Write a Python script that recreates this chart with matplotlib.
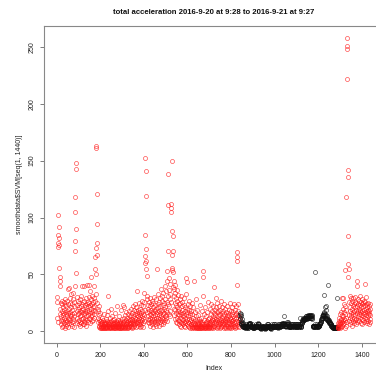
import matplotlib
matplotlib.use("Agg")
import matplotlib.pyplot as plt
import numpy as np

title = "total acceleration 2016-9-20 at 9:28 to 2016-9-21 at 9:27"
xlabel = "Index"
ylabel = "smoothdata$SVM[seq(1, 1440)]"
xticks = [0, 200, 400, 600, 800, 1000, 1200, 1400]
yticks = [0, 50, 100, 150, 200, 250]

# first red stretch (index 1..840)
red_a = [
    12, 30, 26, 8, 85, 78, 102, 74, 92, 82, 76, 56, 15, 44, 48, 40, 20, 9, 25, 13,
    6, 18, 27, 11, 4, 24, 16, 9, 21, 14, 5, 26, 19, 7, 12, 23, 3, 17, 10, 28,
    8, 15, 22, 5, 13, 27, 9, 18, 6, 24, 11, 37, 16, 4, 20, 38, 12, 7, 25, 14,
    10, 29, 17, 6, 21, 13, 33, 8, 24, 15, 5, 19, 28, 11, 34, 9, 22, 16, 4, 26,
    13, 40, 71, 105, 118, 79, 148, 143, 90, 51, 30, 18, 7, 23, 12, 27, 15, 9, 20, 6,
    16, 25, 10, 21, 5, 18, 28, 13, 8, 22, 14, 31, 7, 19, 24, 11, 40, 17, 6, 26,
    12, 20, 9, 40, 15, 27, 6, 18, 23, 11, 16, 8, 29, 21, 13, 5, 24, 17, 10, 41,
    19, 14, 26, 8, 22, 12, 30, 18, 41, 25, 11, 16, 7, 23, 35, 20, 48, 13, 28, 9,
    17, 24, 14, 31, 21, 10, 26, 19, 15, 29, 40, 22, 12, 27, 55, 18, 65, 33, 73, 50,
    163, 161, 121, 94, 78, 67, 25, 20, 12, 18, 8, 14, 5, 22, 10, 4, 16, 6, 3, 9,
    5, 3, 7, 4, 9, 3, 6, 12, 4, 8, 3, 5, 10, 4, 6, 3, 15, 5, 7, 4,
    3, 6, 8, 4, 11, 5, 3, 7, 14, 4, 6, 3, 9, 5, 18, 31, 8, 4, 6, 3,
    7, 5, 12, 4, 3, 8, 6, 20, 4, 9, 3, 5, 7, 13, 4, 6, 3, 10, 5, 4,
    8, 3, 6, 4, 11, 5, 7, 3, 16, 4, 9, 6, 3, 5, 8, 4, 22, 7, 3, 5,
    4, 10, 6, 3, 7, 5, 13, 4, 8, 3, 6, 9, 4, 19, 5, 3, 7, 4, 11, 6,
    3, 5, 8, 23, 4, 7, 12, 3, 6, 21, 9, 4, 5, 14, 3, 7, 10, 4, 6, 17,
    5, 3, 8, 12, 4, 9, 6, 15, 3, 7, 11, 5, 18, 4, 8, 13, 6, 10, 4, 20,
    7, 14, 5, 9, 16, 3, 11, 6, 22, 8, 4, 13, 19, 7, 10, 5, 15, 24, 9, 6,
    12, 18, 4, 8, 21, 11, 14, 35, 7, 16, 10, 5, 19, 13, 8, 25, 6, 12, 17, 4,
    9, 20, 14, 6, 11, 23, 8, 16, 5, 13, 27, 10, 18, 7, 22, 12, 4, 15, 9, 26,
    14, 34, 19, 60, 66, 85, 152, 72, 141, 119, 62, 55, 28, 31, 17, 49, 11, 23, 8, 20,
    13, 26, 7, 18, 10, 29, 15, 5, 22, 12, 19, 8, 24, 14, 6, 17, 11, 27, 9, 21,
    16, 4, 13, 25, 8, 19, 30, 11, 6, 23, 14, 18, 9, 28, 12, 5, 20, 15, 10, 55,
    17, 7, 24, 12, 33, 9, 21, 14, 5, 26, 18, 11, 29, 8, 16, 22, 13, 37, 6, 19,
    12, 27, 9, 18, 31, 15, 6, 23, 11, 34, 20, 8, 16, 25, 13, 40, 10, 21, 28, 14,
    19, 35, 12, 26, 44, 17, 9, 53, 71, 138, 111, 24, 31, 15, 47, 22, 36, 13, 42, 28,
    18, 33, 105, 108, 112, 26, 150, 67, 54, 56, 88, 39, 84, 71, 52, 20, 44, 31, 14, 37,
    25, 11, 34, 19, 41, 8, 29, 16, 23, 12, 36, 7, 21, 27, 15, 10, 32, 18, 6, 24,
    14, 20, 9, 28, 5, 17, 12, 25, 8, 31, 15, 4, 22, 11, 19, 7, 26, 13, 6, 16,
    10, 23, 5, 14, 29, 8, 18, 4, 12, 21, 7, 15, 33, 9, 47, 20, 6, 43, 11, 17,
    5, 13, 24, 8, 19, 4, 11, 27, 7, 16, 3, 22, 9, 14, 5, 18, 6, 10, 25, 4,
    8, 3, 15, 6, 12, 4, 21, 5, 9, 3, 44, 7, 17, 4, 11, 6, 28, 3, 13, 5,
    4, 9, 3, 6, 19, 4, 7, 3, 14, 5, 8, 3, 11, 4, 6, 23, 3, 5, 9, 4,
    7, 3, 12, 5, 4, 18, 6, 3, 8, 31, 53, 48, 4, 10, 5, 3, 15, 6, 4, 21,
    5, 3, 8, 4, 13, 6, 3, 9, 5, 17, 4, 7, 3, 11, 5, 26, 4, 8, 6, 3,
    12, 5, 20, 7, 4, 15, 9, 3, 24, 6, 11, 18, 4, 8, 13, 5, 22, 10, 3, 16,
    7, 39, 12, 5, 19, 9, 14, 4, 21, 8, 11, 29, 6, 17, 3, 10, 25, 5, 13, 8,
    18, 4, 9, 15, 6, 22, 11, 3, 14, 7, 19, 5, 10, 27, 8, 4, 16, 12, 6, 21,
    9, 13, 5, 18, 7, 3, 11, 24, 6, 15, 4, 10, 20, 8, 12, 5, 17, 3, 9, 14,
    6, 22, 11, 4, 16, 8, 13, 5, 19, 10, 3, 7, 14, 25, 6, 12, 4, 9, 18, 5,
    11, 3, 15, 7, 21, 9, 4, 13, 6, 17, 10, 5, 24, 8, 12, 3, 19, 7, 14, 5,
    9, 16, 4, 22, 12, 70, 65, 62, 41, 24, 8, 14, 5, 18, 10, 6, 13, 4, 11, 7,
]

# black stretch (index 841..1288)
black_b = [
    16, 12, 14, 9, 13, 7, 15, 6, 11, 5, 8, 6, 5, 7, 4, 6, 5, 4, 5, 4,
    4, 5, 4, 3, 4, 5, 6, 5, 4, 4, 3, 4, 5, 4, 4, 3, 3, 4, 5, 6,
    6, 7, 6, 6, 5, 6, 7, 7, 6, 5, 5, 4, 5, 5, 6, 5, 4, 4, 5, 4,
    4, 3, 3, 4, 3, 3, 4, 4, 5, 4, 4, 5, 6, 5, 5, 4, 4, 5, 5, 4,
    5, 6, 6, 7, 6, 5, 5, 6, 5, 4, 4, 3, 3, 4, 3, 3, 2, 3, 3, 4,
    4, 5, 5, 4, 4, 5, 4, 4, 3, 3, 4, 4, 5, 5, 4, 3, 3, 2, 3, 3,
    4, 4, 5, 6, 5, 5, 4, 4, 5, 6, 6, 5, 5, 4, 4, 5, 5, 4, 3, 3,
    3, 2, 3, 3, 4, 4, 5, 5, 6, 5, 5, 4, 4, 5, 4, 4, 5, 6, 6, 5,
    5, 4, 4, 5, 5, 6, 5, 5, 4, 4, 5, 5, 4, 4, 3, 4, 4, 5, 5, 6,
    6, 5, 5, 4, 4, 5, 5, 6, 6, 5, 5, 6, 7, 6, 5, 5, 6, 6, 7, 6,
    6, 7, 13, 6, 5, 6, 6, 5, 5, 5, 4, 5, 5, 6, 6, 5, 8, 5, 6, 7,
    8, 6, 6, 5, 5, 4, 4, 5, 5, 4, 4, 5, 6, 6, 5, 5, 4, 4, 5, 5,
    6, 5, 5, 6, 6, 5, 5, 4, 4, 5, 5, 6, 6, 5, 5, 5, 4, 4, 5, 6,
    6, 5, 5, 4, 4, 5, 5, 6, 6, 5, 4, 4, 5, 5, 6, 12, 6, 5, 4, 4,
    5, 5, 6, 7, 8, 7, 9, 10, 9, 10, 11, 12, 10, 11, 12, 11, 10, 11, 12, 11,
    12, 13, 12, 11, 12, 13, 12, 12, 11, 12, 13, 12, 13, 14, 13, 12, 13, 14, 13, 12,
    13, 12, 14, 13, 12, 13, 14, 13, 12, 14, 13, 12, 11, 5, 5, 4, 5, 5, 4, 5,
    5, 4, 5, 6, 52, 5, 4, 5, 5, 4, 5, 5, 6, 5, 4, 5, 5, 4, 5, 5,
    4, 5, 5, 6, 5, 5, 6, 7, 6, 7, 8, 9, 8, 10, 11, 12, 11, 13, 12, 14,
    13, 15, 14, 12, 16, 14, 32, 13, 17, 12, 15, 21, 13, 11, 19, 14, 12, 22, 10, 13,
    11, 12, 9, 10, 41, 11, 9, 10, 8, 9, 8, 7, 8, 7, 6, 7, 6, 6, 5, 6,
    5, 5, 4, 5, 4, 4, 3, 4, 4, 3, 3, 4, 3, 3, 4, 3, 3, 4, 3, 3,
    3, 4, 3, 3, 4, 29, 3, 4,
]

# second red stretch (index 1289..1440)
red_c = [
    3, 5, 4, 7, 3, 6, 9, 4, 12, 5, 8, 15, 6, 3, 10, 7, 17, 4, 11, 29,
    8, 14, 5, 29, 20, 9, 13, 6, 24, 11, 17, 7, 3, 15, 54, 10, 22, 5, 12, 19,
    8, 118, 258, 251, 248, 222, 59, 142, 136, 84, 48, 55, 14, 26, 9, 18, 31, 6, 21, 12,
    25, 16, 8, 29, 13, 20, 5, 27, 11, 17, 22, 29, 9, 15, 24, 7, 18, 12, 26, 10,
    21, 14, 30, 6, 19, 25, 11, 44, 16, 40, 22, 8, 28, 13, 18, 24, 10, 20, 15, 27,
    9, 23, 17, 12, 31, 19, 26, 7, 21, 14, 28, 11, 18, 24, 6, 16, 22, 13, 25, 10,
    19, 27, 15, 8, 23, 42, 17, 12, 26, 20, 9, 30, 14, 18, 24, 11, 21, 7, 16, 25,
    13, 19, 9, 22, 15, 6, 18, 11, 24, 8, 14, 20,
]

segments = [(red_a, "#ff1a1a"), (black_b, "#111111"), (red_c, "#ff1a1a")]

W, H = 376, 376
fig = plt.figure(figsize=(W / 100, H / 100), dpi=100)
left, right, top, bottom = 44.4, 383.0, 26.0, 343.0
ax = fig.add_axes([left / W, 1 - bottom / H, (right - left) / W, (bottom - top) / H])

start = 1
for vals, col in segments:
    idx = np.arange(start, start + len(vals))
    ax.plot(idx, vals, linestyle="none", marker="o", markersize=2.9,
            markerfacecolor="none", markeredgecolor=col, markeredgewidth=0.45,
            alpha=0.85)
    start += len(vals)

ax.set_xlim(-56.6, 1497.6)
ax.set_ylim(-10.3, 268.4)

font = "Liberation Sans"
ax.set_xticks(xticks)
ax.set_xticklabels([str(t) for t in xticks], fontsize=5, family=font)
ax.set_yticks(yticks)
ax.set_yticklabels([str(t) for t in yticks], fontsize=5, family=font,
                   rotation=90, va="center")
ax.tick_params(direction="out", length=3, width=0.6, color="#666666",
               labelcolor="#222222", pad=3.5)
for s in ax.spines.values():
    s.set_color("#888888")
    s.set_linewidth(0.8)

fig.text(213.7 / W, 1 - 12 / H, title, ha="center", va="center",
         fontsize=5.6, fontweight="bold", family=font, color="#111111")
fig.text(213.7 / W, 1 - 368 / H, xlabel, ha="center", va="center",
         fontsize=5, family=font, color="#222222")
fig.text(20 / W, 1 - 184.5 / H, ylabel, ha="center", va="center",
         fontsize=5, family=font, color="#222222", rotation=90)

fig.savefig("out.png", dpi=100)
